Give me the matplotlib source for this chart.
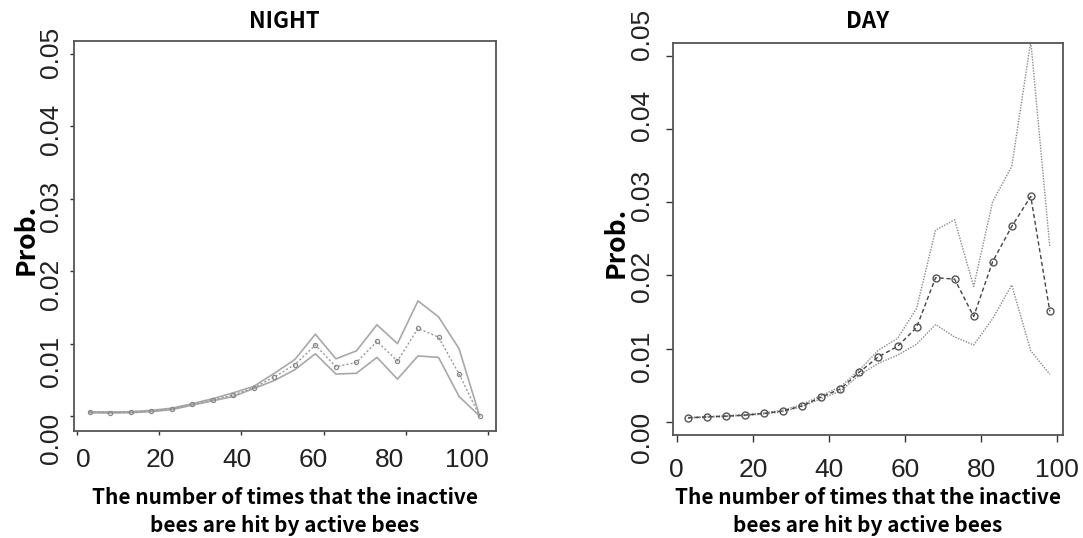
import matplotlib.pyplot as plt
import numpy as np

# bin centres (number of hits)
hits = [3, 8, 13, 18, 23, 28, 33, 38, 43, 48, 53, 58, 63, 68, 73, 78, 83, 88, 93, 98]

night_mid = [0.00051, 0.00048, 0.00052, 0.00069, 0.00097, 0.0016, 0.00225, 0.0029, 0.0039, 0.0054,
             0.0071, 0.0098, 0.0068, 0.0074, 0.0103, 0.0076, 0.0121, 0.0109, 0.0058, 0.0]
night_hi = [0.00058, 0.00056, 0.00060, 0.00078, 0.00108, 0.0017, 0.0024, 0.0032, 0.0041, 0.0059,
            0.0078, 0.0113, 0.0079, 0.0090, 0.0126, 0.0100, 0.0159, 0.0137, 0.0093, 0.0]
night_lo = [0.00045, 0.00042, 0.00045, 0.00061, 0.00088, 0.0015, 0.0021, 0.0027, 0.0038, 0.0049,
            0.0064, 0.0086, 0.0058, 0.0059, 0.0081, 0.0051, 0.0083, 0.0081, 0.0027, 0.0]

day_mid = [0.00055, 0.00068, 0.00078, 0.00092, 0.00115, 0.0015, 0.0022, 0.0034, 0.0045, 0.0068,
           0.0089, 0.0103, 0.0129, 0.0197, 0.0195, 0.0144, 0.0219, 0.0267, 0.0308, 0.0151]
day_hi = [0.00060, 0.00073, 0.00084, 0.00099, 0.00123, 0.0016, 0.0024, 0.0036, 0.0048, 0.0071,
          0.0098, 0.0114, 0.0155, 0.0262, 0.0276, 0.0185, 0.0301, 0.0349, 0.0520, 0.0239]
day_lo = [0.00050, 0.00063, 0.00072, 0.00086, 0.00108, 0.0014, 0.0021, 0.0032, 0.0042, 0.0064,
          0.0080, 0.0091, 0.0106, 0.0133, 0.0116, 0.0105, 0.0141, 0.0187, 0.0097, 0.0065]

xlabel = 'The number of times that the inactive\nbees are hit by active bees'
xticks = [0, 20, 40, 60, 80, 100]
yticks = [0.00, 0.01, 0.02, 0.03, 0.04, 0.05]

jp = ['Noto Sans CJK JP', 'DejaVu Sans']
plt.rcParams['font.family'] = ['Liberation Sans', 'DejaVu Sans']

fig = plt.figure(figsize=(10.83, 5.38), dpi=100)
ax1 = fig.add_axes([0.0679, 0.1994, 0.3901, 0.7250])
ax2 = fig.add_axes([0.6217, 0.1914, 0.3596, 0.7292])


def style_axes(ax, title, xlim, ylim, ticklen, title_pad,
               xlab_map, ylab_map, xlab_top, ylab_right, xlabel_y, ylabel_x):
    ax.set_xlim(*xlim)
    ax.set_ylim(*ylim)
    ax.set_xticks(xticks)
    ax.set_yticks(yticks)
    ax.tick_params(length=ticklen, width=1, color='#333333',
                   labelbottom=False, labelleft=False)
    for sp in ax.spines.values():
        sp.set_color('#555555')
        sp.set_linewidth(1.3)

    # tick labels are laid out on their own scale, a little off the tick marks
    x0, kx = xlab_map
    for v in xticks:
        ax.text(x0 + kx * v, xlab_top, str(v), transform=ax.get_xaxis_transform(),
                ha='center', va='top', fontsize=19, color='#222222', clip_on=False)
    y0, ky = ylab_map
    for v in yticks:
        ax.text(ylab_right, y0 + ky * v, '%.2f' % v, transform=ax.get_yaxis_transform(),
                rotation=90, ha='right', va='center', fontsize=19, color='#222222',
                clip_on=False)

    ax.set_title(title, fontsize=16, fontweight='bold', pad=title_pad, family=jp)
    ax.set_xlabel(xlabel, fontsize=15, fontweight='bold', linespacing=1.4,
                  family=jp, va='top')
    ax.xaxis.set_label_coords(0.5, xlabel_y)
    ax.set_ylabel('Prob.', fontsize=19, fontweight='bold', family=jp, va='center')
    ax.yaxis.set_label_coords(ylabel_x, 0.49)


# night: solid light bounds, dotted mean with small points
ax1.plot(hits, night_hi, color='#a8a8a8', lw=1.2)
ax1.plot(hits, night_lo, color='#a8a8a8', lw=1.2)
ax1.plot(hits, night_mid, color='#9a9a9a', lw=1.0, ls=(0, (1.5, 1.5)),
         marker='o', ms=3, mfc='none', mec='#888888', mew=0.9)
style_axes(ax1, 'NIGHT', (-0.9, 102.0), (-0.00203, 0.05184), 3, 9,
           (1.53, 0.9331), (-0.00311, 1.0678), -0.0444, -0.0249, -0.1444, -0.113)

# day: dotted bounds, dashed mean with open circles
ax2.plot(hits, day_hi, color='#8a8a8a', lw=1.0, ls=(0, (1, 1)))
ax2.plot(hits, day_lo, color='#8a8a8a', lw=1.0, ls=(0, (1, 1)))
ax2.plot(hits, day_mid, color='#444444', lw=1.0, ls=(0, (3, 2)),
         marker='o', ms=5, mfc='none', mec='#555555', mew=1.0)
style_axes(ax2, 'DAY', (-0.9, 101.4), (-0.0018, 0.0518), 5, 10.5,
           (0.0, 1.0), (-0.00209, 1.0992), -0.0586, -0.0496, -0.1326, -0.148)

fig.savefig('out.png', dpi=100)
